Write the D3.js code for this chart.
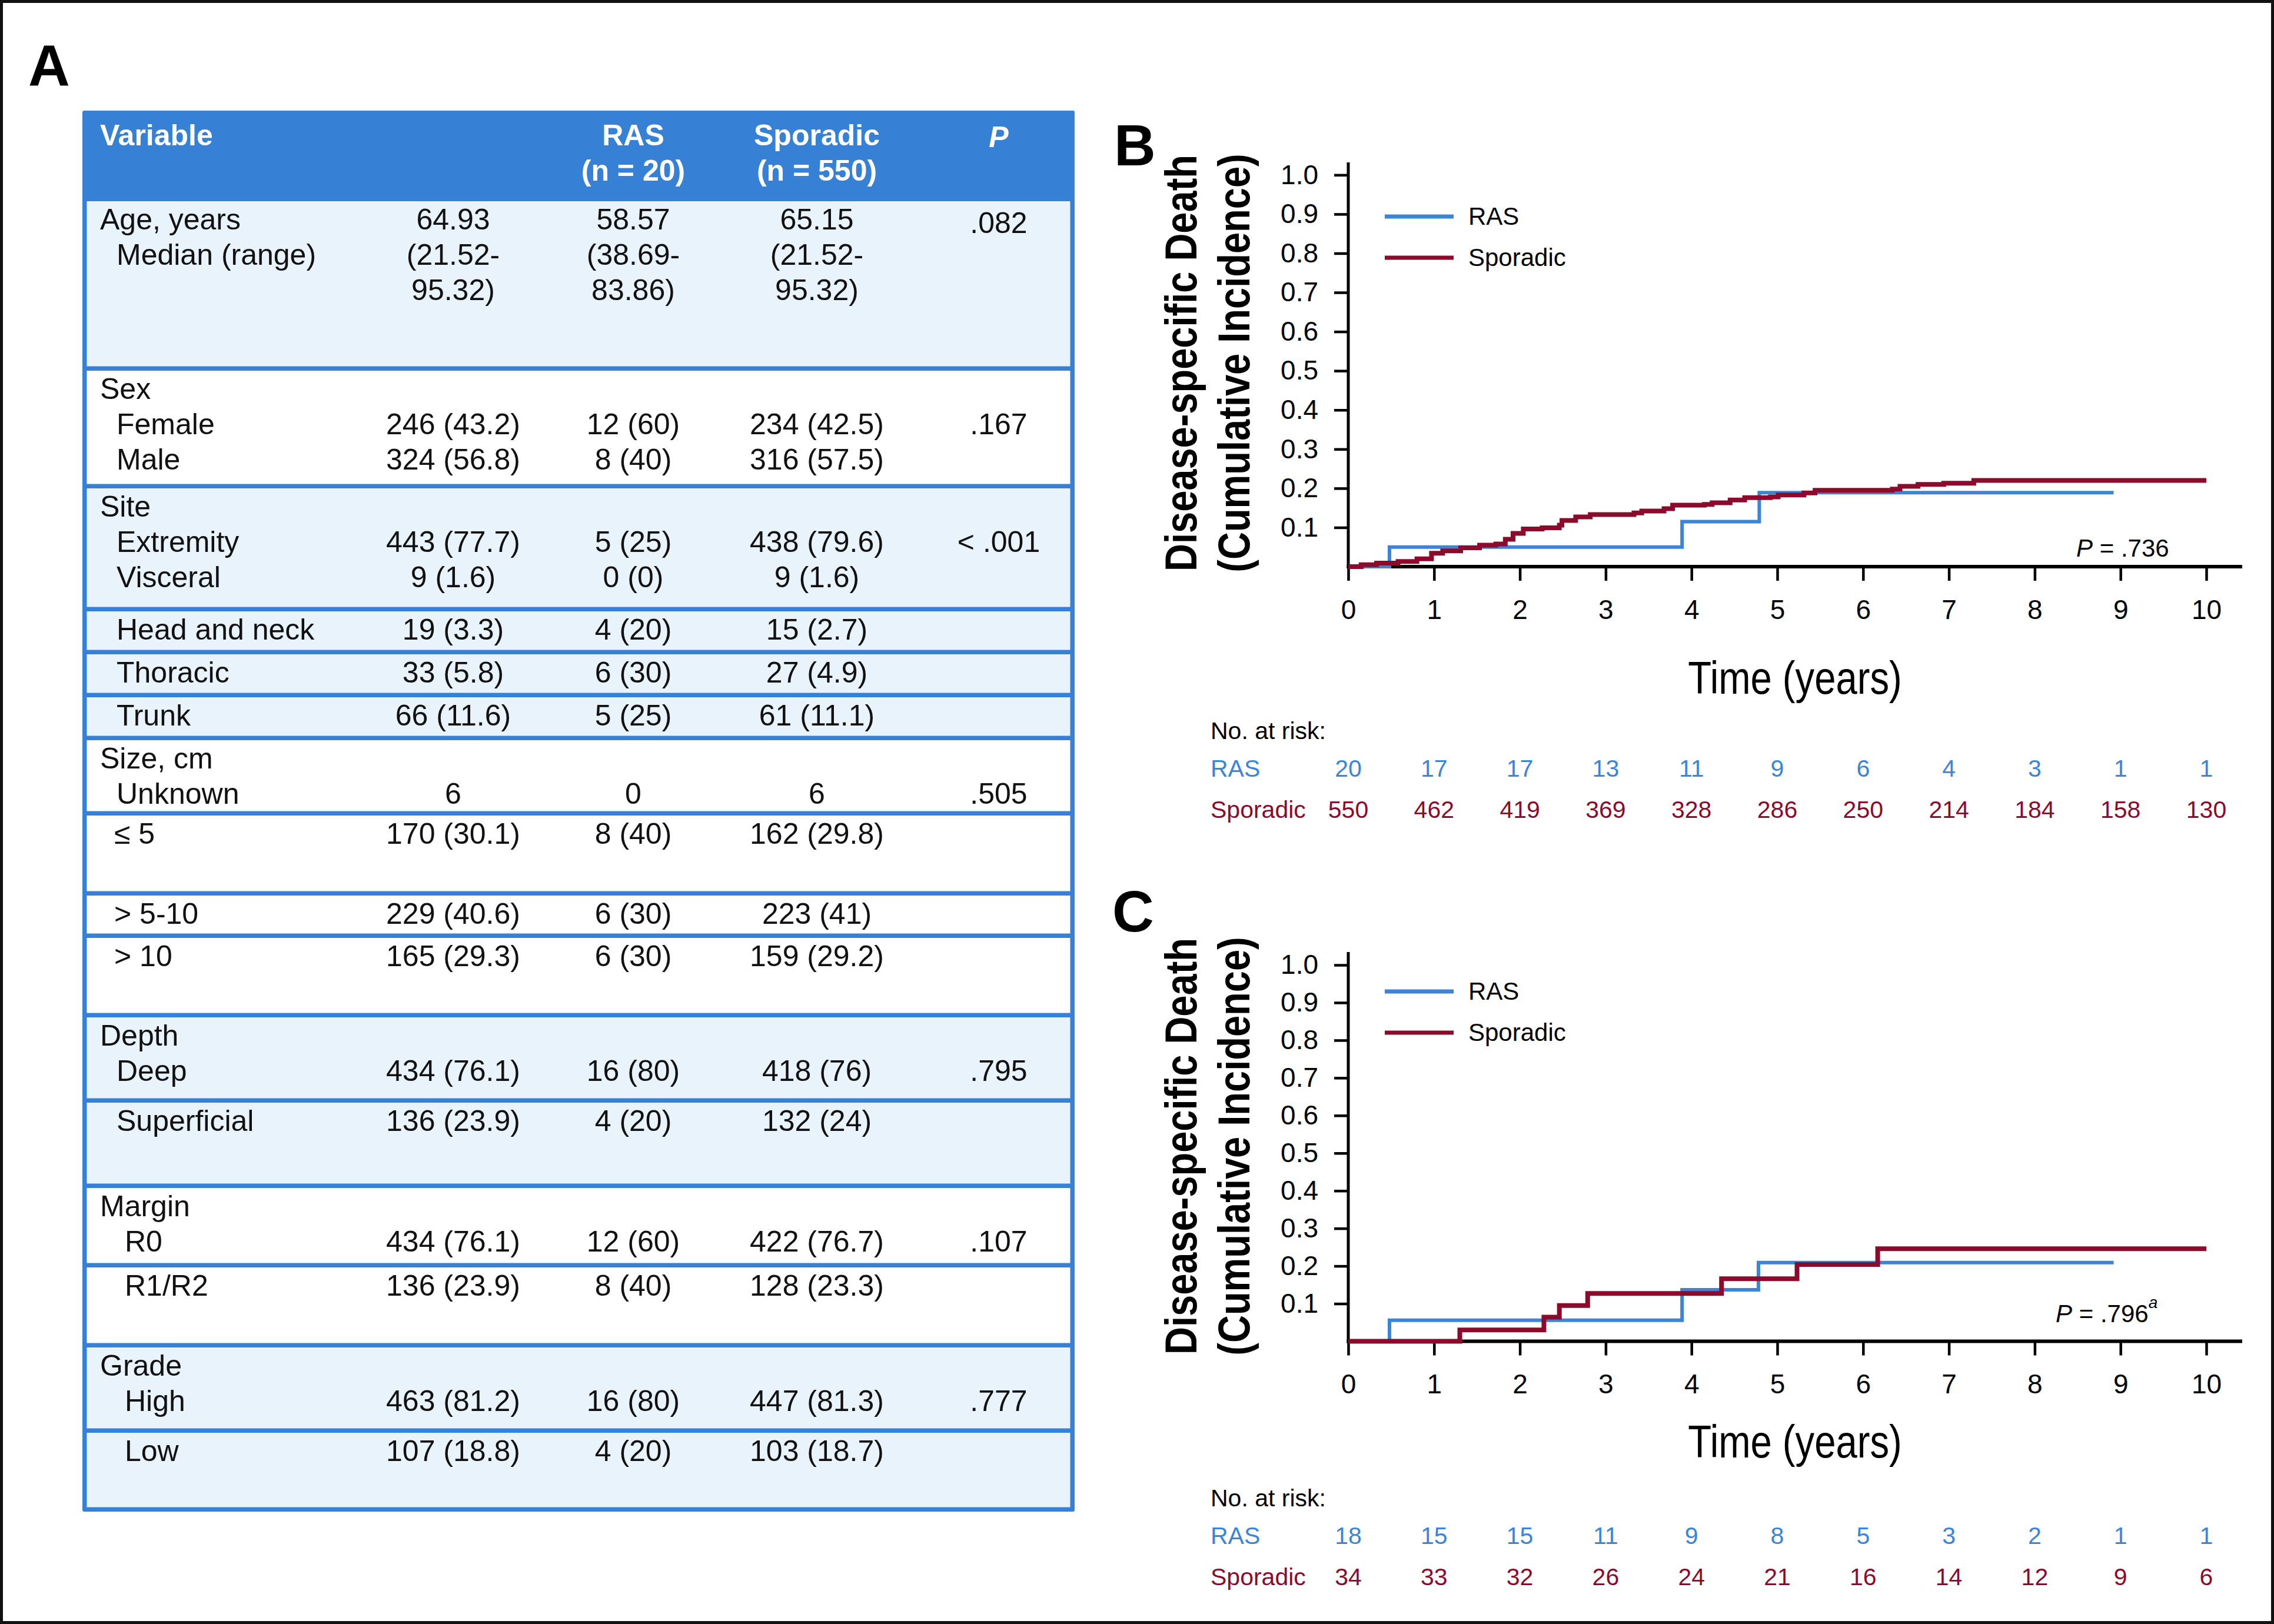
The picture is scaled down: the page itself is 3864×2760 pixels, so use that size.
<!DOCTYPE html>
<html>
<head>
<meta charset="utf-8">
<script src="https://cdn.jsdelivr.net/npm/d3@7"></script>
<style>
  html, body { margin: 0; padding: 0; background: #fff; }
  svg { display: block; }
</style>
</head>
<body>
<script>
// ---------------- DATA ----------------
// Table (panel A)
const headerTop = ["Variable", "", "RAS", "Sporadic", "P"];
const headerSub = ["", "", "(n = 20)", "(n = 550)", ""];

const rowLabels = [
  ["Age, years", "Median (range)", ""],
  ["Sex", "Female", "Male"],
  ["Site", "Extremity", "Visceral"],
  ["Head and neck"],
  ["Thoracic"],
  ["Trunk"],
  ["Size, cm", "Unknown"],
  ["\u2264 5"],
  ["> 5-10"],
  ["> 10"],
  ["Depth", "Deep"],
  ["Superficial"],
  ["Margin", "R0"],
  ["R1/R2"],
  ["Grade", "High"],
  ["Low"]
];
const overallVals = [
  ["64.93", "(21.52-", "95.32)"],
  ["", "246 (43.2)", "324 (56.8)"],
  ["", "443 (77.7)", "9 (1.6)"],
  ["19 (3.3)"], ["33 (5.8)"], ["66 (11.6)"],
  ["", "6"],
  ["170 (30.1)"], ["229 (40.6)"], ["165 (29.3)"],
  ["", "434 (76.1)"], ["136 (23.9)"],
  ["", "434 (76.1)"], ["136 (23.9)"],
  ["", "463 (81.2)"], ["107 (18.8)"]
];
const rasVals = [
  ["58.57", "(38.69-", "83.86)"],
  ["", "12 (60)", "8 (40)"],
  ["", "5 (25)", "0 (0)"],
  ["4 (20)"], ["6 (30)"], ["5 (25)"],
  ["", "0"],
  ["8 (40)"], ["6 (30)"], ["6 (30)"],
  ["", "16 (80)"], ["4 (20)"],
  ["", "12 (60)"], ["8 (40)"],
  ["", "16 (80)"], ["4 (20)"]
];
const sporadicVals = [
  ["65.15", "(21.52-", "95.32)"],
  ["", "234 (42.5)", "316 (57.5)"],
  ["", "438 (79.6)", "9 (1.6)"],
  ["15 (2.7)"], ["27 (4.9)"], ["61 (11.1)"],
  ["", "6"],
  ["162 (29.8)"], ["223 (41)"], ["159 (29.2)"],
  ["", "418 (76)"], ["132 (24)"],
  ["", "422 (76.7)"], ["128 (23.3)"],
  ["", "447 (81.3)"], ["103 (18.7)"]
];
const pVals = [
  [".082"], ["", ".167"], ["", "< .001"], [""], [""], [""],
  ["", ".505"], [""], [""], [""],
  ["", ".795"], [""], ["", ".107"], [""], ["", ".777"], [""]
];

// Curves (panel B: all patients)
const timeTicks = [0, 1, 2, 3, 4, 5, 6, 7, 8, 9, 10];
const yTicks = [0.1, 0.2, 0.3, 0.4, 0.5, 0.6, 0.7, 0.8, 0.9, 1.0];
const seriesNames = ["RAS", "Sporadic"];

const rasB_t = [0, 0.48, 3.89, 4.79, 8.92];
const rasB_v = [0, 0.05, 0.115, 0.189, 0.189];
const sporB_t = [0, 0.15, 0.33, 0.58, 0.80, 0.97, 1.10, 1.31, 1.53, 1.72, 1.83, 1.92, 2.04, 2.26, 2.46, 2.49, 2.65, 2.82, 3.33, 3.42, 3.68, 3.78, 4.15, 4.24, 4.45, 4.62, 4.92, 5.01, 5.31, 5.44, 6.34, 6.43, 6.64, 6.94, 7.29, 10];
const sporB_v = [0, 0.005, 0.009, 0.013, 0.02, 0.034, 0.04, 0.048, 0.055, 0.058, 0.07, 0.085, 0.096, 0.099, 0.106, 0.118, 0.127, 0.133, 0.137, 0.142, 0.148, 0.157, 0.159, 0.163, 0.170, 0.176, 0.178, 0.183, 0.188, 0.195, 0.198, 0.205, 0.21, 0.213, 0.22, 0.22];
const riskB_ras = [20, 17, 17, 13, 11, 9, 6, 4, 3, 1, 1];
const riskB_spor = [550, 462, 419, 369, 328, 286, 250, 214, 184, 158, 130];
const pTextB = ".736";

// Curves (panel C: matched)
const rasC_t = [0, 0.48, 3.89, 4.78, 8.92];
const rasC_v = [0, 0.056, 0.137, 0.209, 0.209];
const sporC_t = [0, 1.30, 2.28, 2.46, 2.79, 4.35, 5.23, 6.17, 10];
const sporC_v = [0, 0.030, 0.064, 0.095, 0.127, 0.166, 0.204, 0.246, 0.246];
const riskC_ras = [18, 15, 15, 11, 9, 8, 5, 3, 2, 1, 1];
const riskC_spor = [34, 33, 32, 26, 24, 21, 16, 14, 12, 9, 6];
const pTextC = ".796";

// ---------------- LAYOUT / STYLE ----------------
const W = 3864, H = 2760;
const FONT = "'Liberation Sans', Arial, Helvetica, sans-serif";
const BLUE_TBL = "#3680d6";
const LIGHT = "#e8f3fb";
const C_RAS = "#3a85d8";
const C_SPOR = "#8c0a2b";

const svg = d3.select("body").append("svg")
  .attr("width", W).attr("height", H)
  .style("font-family", FONT);

svg.append("rect").attr("width", W).attr("height", H).attr("fill", "#fff");
svg.append("rect").attr("x", 2.5).attr("y", 2.5).attr("width", W - 5).attr("height", H - 5)
  .attr("fill", "none").attr("stroke", "#111").attr("stroke-width", 5);

// panel labels
const panelLabel = (t, x, y) => svg.append("text").attr("x", x).attr("y", y)
  .attr("font-size", 98).attr("font-weight", "bold").attr("fill", "#000").text(t);
panelLabel("A", 48, 145);
panelLabel("B", 1893, 281);
panelLabel("C", 1890, 1583);

// ---------------- TABLE ----------------
const tX0 = 140, tX1 = 1826, tTop = 188, hdrBottom = 342, sep = 7.5;
const groupHeights = [288, 200, 209, 73, 73, 73, 128, 136, 72, 135, 145, 145, 135, 136, 145, 134];
const groupFill = ["L", "W", "L", "L", "L", "L", "W", "W", "W", "W", "L", "L", "W", "W", "L", "L"];
const hasHeading = [true, true, true, false, false, false, true, false, false, false, true, false, true, false, true, false];
const subX = [198, 198, 198, 198, 198, 198, 198, 194, 194, 194, 198, 198, 212, 212, 212, 212];
const colX = [null, 770, 1076, 1388, 1697];
const TFS = 50;

const tableBottom = hdrBottom + d3.sum(groupHeights);
const tbl = svg.append("g");
tbl.append("rect").attr("x", tX0).attr("y", tTop).attr("width", tX1 - tX0)
  .attr("height", tableBottom - tTop).attr("rx", 3).attr("fill", BLUE_TBL);

// header
headerTop.forEach((t, i) => {
  if (!t) return;
  const txt = tbl.append("text").attr("y", i === 4 ? 250 : 247)
    .attr("font-size", TFS).attr("font-weight", "bold").attr("fill", "#fff").text(t);
  if (i === 0) txt.attr("x", 170);
  else txt.attr("x", colX[i]).attr("text-anchor", "middle");
  if (i === 4) txt.attr("font-style", "italic");
});
headerSub.forEach((t, i) => {
  if (!t) return;
  tbl.append("text").attr("x", colX[i]).attr("y", 307).attr("text-anchor", "middle")
    .attr("font-size", TFS).attr("font-weight", "bold").attr("fill", "#fff").text(t);
});

let yCursor = hdrBottom;
groupHeights.forEach((h, g) => {
  const gTop = yCursor;
  tbl.append("rect").attr("x", tX0 + sep).attr("y", gTop)
    .attr("width", tX1 - tX0 - 2 * sep).attr("height", h - sep)
    .attr("fill", groupFill[g] === "L" ? LIGHT : "#ffffff");
  const base = j => gTop + 48 + j * 60;
  rowLabels[g].forEach((t, j) => {
    if (!t) return;
    const x = (hasHeading[g] && j === 0) ? 170 : subX[g];
    tbl.append("text").attr("x", x).attr("y", base(j)).attr("font-size", TFS).attr("fill", "#111").text(t);
  });
  [overallVals, rasVals, sporadicVals, pVals].forEach((col, c) => {
    (col[g] || []).forEach((t, j) => {
      if (!t) return;
      const yOff = (c === 3 && g === 0) ? 6 : 0;
      tbl.append("text").attr("x", colX[c + 1]).attr("y", base(j) + yOff)
        .attr("text-anchor", "middle").attr("font-size", TFS).attr("fill", "#111").text(t);
    });
  });
  yCursor += h;
});

// ---------------- CURVE PANELS ----------------
function panel(cfg) {
  const g = svg.append("g");
  const x = d3.scaleLinear().domain([0, 10]).range([2291, 3749]);
  const y = d3.scaleLinear().domain([0, 1]).range([cfg.y0, cfg.y1]);

  // y axis
  const ya = g.append("g").attr("transform", `translate(${x(0)},0)`)
    .call(d3.axisLeft(y).tickValues(yTicks).tickSize(24).tickPadding(27).tickFormat(d3.format(".1f")));
  ya.select(".domain").remove();
  ya.selectAll(".tick line").attr("stroke", "#000").attr("stroke-width", 4.5);
  ya.selectAll(".tick text").attr("font-size", 46).attr("font-family", FONT).attr("fill", "#000");
  g.append("line").attr("x1", x(0)).attr("x2", x(0)).attr("y1", cfg.axisTop).attr("y2", y(0) + 3)
    .attr("stroke", "#000").attr("stroke-width", 5);

  // x axis
  const xa = g.append("g").attr("transform", `translate(0,${y(0)})`)
    .call(d3.axisBottom(x).tickValues(timeTicks).tickSize(24).tickPadding(32).tickFormat(d3.format("d")));
  xa.select(".domain").remove();
  xa.selectAll(".tick line").attr("stroke", "#000").attr("stroke-width", 4.5);
  xa.selectAll(".tick text").attr("font-size", 46).attr("font-family", FONT).attr("fill", "#000");
  g.append("line").attr("x1", x(0) - 2.5).attr("x2", 3810).attr("y1", y(0)).attr("y2", y(0))
    .attr("stroke", "#000").attr("stroke-width", 6);

  // y title (two lines, rotated)
  const ymid = cfg.titleMid;
  [["Disease-specific Death", 2033], ["(Cumulative Incidence)", 2123]].forEach(([t, bx]) => {
    g.append("text").attr("transform", `translate(${bx},${ymid}) rotate(-90) scale(1,1.16)`)
      .attr("text-anchor", "middle").attr("font-size", 65).attr("font-weight", "bold")
      .attr("fill", "#000").text(t);
  });

  // x title
  g.append("text").attr("transform", `translate(3050,${cfg.xTitleY}) scale(0.836,1)`)
    .attr("text-anchor", "middle").attr("font-size", 78).attr("fill", "#000").text("Time (years)");

  // curves
  const line = d3.line().x(d => x(d[0])).y(d => y(d[1])).curve(d3.curveStepAfter);
  const sporPts = cfg.sporT.map((t, i) => [t, cfg.sporV[i]]);
  const rasPts = cfg.rasT.map((t, i) => [t, cfg.rasV[i]]);
  g.append("path").datum(rasPts).attr("d", line).attr("fill", "none")
    .attr("stroke", C_RAS).attr("stroke-width", 6);
  g.append("path").datum(sporPts).attr("d", line).attr("fill", "none")
    .attr("stroke", C_SPOR).attr("stroke-width", 8);

  // legend
  const colors = [C_RAS, C_SPOR];
  seriesNames.forEach((n, i) => {
    const ly = cfg.legY + i * 70;
    g.append("line").attr("x1", 2353).attr("x2", 2470).attr("y1", ly).attr("y2", ly)
      .attr("stroke", colors[i]).attr("stroke-width", 7);
    g.append("text").attr("x", 2495).attr("y", ly + 14).attr("font-size", 42)
      .attr("fill", "#000").text(n);
  });

  // P value
  const pt = g.append("text").attr("x", cfg.pX).attr("y", cfg.pY).attr("font-size", 42).attr("fill", "#000");
  pt.append("tspan").attr("font-style", "italic").text("P");
  pt.append("tspan").text(" = " + cfg.pText);
  if (cfg.pSup) {
    pt.append("tspan").attr("font-size", 28).attr("font-style", "italic").attr("dy", -24).text(cfg.pSup);
  }

  // risk table
  g.append("text").attr("x", 2057).attr("y", cfg.riskY).attr("font-size", 41).attr("fill", "#000").text("No. at risk:");
  const riskRows = [[cfg.riskRas, C_RAS], [cfg.riskSpor, C_SPOR]];
  riskRows.forEach(([vals, col], r) => {
    const by = cfg.riskY + (r === 0 ? 64 : 134);
    g.append("text").attr("x", 2057).attr("y", by).attr("font-size", 41).attr("fill", col).text(seriesNames[r]);
    g.selectAll(null).data(vals).enter().append("text")
      .attr("x", (d, i) => x(timeTicks[i])).attr("y", by)
      .attr("text-anchor", "middle").attr("font-size", 41).attr("fill", col)
      .text(d => d);
  });
}

panel({
  y0: 963, y1: 297.3, axisTop: 276, titleMid: 617, xTitleY: 1179,
  rasT: rasB_t, rasV: rasB_v, sporT: sporB_t, sporV: sporB_v,
  legY: 368, pX: 3528, pY: 946, pText: pTextB,
  riskY: 1256, riskRas: riskB_ras, riskSpor: riskB_spor
});
panel({
  y0: 2279.5, y1: 1640, axisTop: 1618, titleMid: 1948, xTitleY: 2477,
  rasT: rasC_t, rasV: rasC_v, sporT: sporC_t, sporV: sporC_v,
  legY: 1685, pX: 3493, pY: 2247, pText: pTextC, pSup: "a",
  riskY: 2560, riskRas: riskC_ras, riskSpor: riskC_spor
});
</script>
</body>
</html>
